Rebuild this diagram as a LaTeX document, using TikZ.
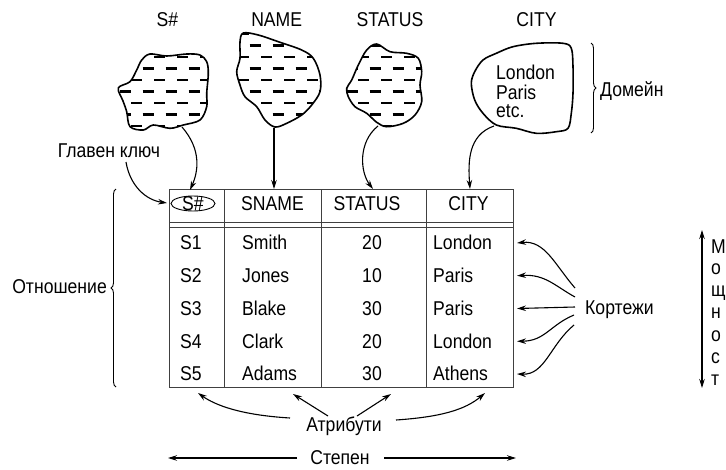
\documentclass[tikz,border=0pt]{standalone}
\usepackage{fontspec}
\setmainfont{Liberation Sans}[FakeStretch=0.88]
\usetikzlibrary{arrows.meta,decorations.pathreplacing}

\newcommand{\dblob}[2]{%
  \begin{scope}
    \clip plot[smooth cycle, tension=0.55] coordinates {#1};
    \foreach \yy in {34,57,...,140} \draw[dashrow] (100+#2,\yy) -- (600,\yy);
    \foreach \yy in {45.5,68.5,...,140} \draw[dashrow] (88.5+#2,\yy) -- (600,\yy);
  \end{scope}
  \draw[blobline] plot[smooth cycle, tension=0.55] coordinates {#1};}

\begin{document}
\begin{tikzpicture}[x=1pt,y=-1pt,
  font=\fontsize{20}{24}\selectfont,
  txt/.style={inner sep=0pt, text height=13.5pt, text depth=0pt},
  arr/.style={-{Stealth[length=9pt,width=5.5pt]}, line width=1.1pt},
  dblarr/.style={{Stealth[length=9pt,width=5.5pt]}-{Stealth[length=9pt,width=5.5pt]}, line width=1.1pt},
  blobline/.style={line width=1.6pt, line join=round},
  dashrow/.style={line width=2.9pt, dash pattern=on 11pt off 12pt},
  tline/.style={line width=0.9pt, black!75},
  brc/.style={decorate, decoration={brace, amplitude=5pt}, line width=0.9pt}]
\useasboundingbox (0,0) rectangle (726,469);

% ---- domain blobs ----
\dblob{(141.7,60) (150,54) (166.7,56) (186.7,54) (200,55) (206.7,61.7) (208.3,73.3) (206.7,93.3) (206.7,106.7) (200,120) (183.3,125) (170,128.3) (153.3,125) (143.3,130) (130,126.7) (126.7,111.7) (123,101) (118.3,88) (130,81.7) (136.7,70)}{8}
\dblob{(243.3,33) (258.3,35) (278.3,41.7) (301.7,50) (313.3,58.3) (320,75) (320,91.7) (311.7,105) (301.7,115) (286.7,123.3) (275,127) (265,120) (256.7,106.7) (245,96.7) (240,85) (236.7,71.7) (240,58.3) (240,41.7)}{0}
\dblob{(366.7,50) (376.7,44) (390,51.7) (406.7,53.3) (418.3,58.3) (421.7,71.7) (420,85) (421.7,101.7) (415,115) (403.3,123.3) (386.7,126.7) (376.7,122.3) (366.7,113.3) (355,106.7) (348.3,96.7) (346.7,88.3) (351.7,80) (358.3,65)}{5}
\draw[blobline] plot[smooth cycle, tension=0.55] coordinates {(474.7,71.7) (483,60) (496.3,53.3) (513,46.7) (536.3,43.3) (563,43.3) (571.3,48.3) (573,66.7) (573,93.3) (571.3,113.3) (568,128.3) (556.3,131.7) (536.3,133.3) (516.3,128.3) (496.3,125) (483,113.3) (474.7,100) (471.3,83.3)};
\node[txt, anchor=west] (cL) at (496,72.5) {London};
\node[txt, anchor=west] (cP) at (496,92.5) {Paris};
\node[txt, anchor=west] (cE) at (496,111) {etc.};

% ---- top labels ----
\node[txt] (lS) at (167.5,20) {S\#};
\node[txt] (lN) at (276.7,20) {NAME};
\node[txt] (lSt) at (390,20) {STATUS};
\node[txt] (lC) at (536.5,20) {CITY};

% Domain brace
\draw[brc] (591,43) -- (591,133);
\node[txt, anchor=west] (dom) at (600,90) {Домейн};

% ---- table ----
\draw[tline] (169,189) rectangle (513,387);
\draw[tline] (224,189) -- (224,387) (321,189) -- (321,387) (426,189) -- (426,387);
\draw[tline] (169,222) -- (513,222) (169,227) -- (513,227);

\node[txt] (hS) at (193,203.5) {S\#};
\draw[line width=0.9pt] (hS.center) ellipse [x radius=22, y radius=7.5];
\node[txt] (hN) at (272.5,203.5) {SNAME};
\node[txt] (hSt) at (367,203.5) {STATUS};
\node[txt] (hC) at (468.5,203.5) {CITY};

\foreach \id/\nm/\st/\ct [count=\i] in {S1/Smith/20/London, S2/Jones/10/Paris, S3/Blake/30/Paris, S4/Clark/20/London, S5/Adams/30/Athens}{
  \pgfmathsetmacro{\ry}{243+32.75*(\i-1)}
  \node[txt] (id\i) at (191,\ry) {\id};
  \node[txt, anchor=west] (nm\i) at (242,\ry) {\nm};
  \node[txt] (st\i) at (372,\ry) {\st};
  \node[txt, anchor=west] (ct\i) at (433,\ry) {\ct};
  \coordinate (r\i) at (517,\ry);
}

% ---- blob to header arrows ----
\coordinate (bS) at (182,127);
\coordinate (bN) at (274,128);
\coordinate (bSt) at (378,126);
\coordinate (bC) at (494,126);
\coordinate (tS) at (190,190);
\coordinate (tN) at (274,189);
\coordinate (tSt) at (373,189);
\coordinate (tC) at (470,189);
\draw[arr] (bS) .. controls (202,150) and (198,172) .. (tS);
\draw[arr] (bN) -- (tN);
\draw[arr] (bSt) .. controls (358,142) and (360,172) .. (tSt);
\draw[arr] (bC) .. controls (468,135) and (468,162) .. (tC);

% primary key
\node[txt] (pk) at (109,151) {Главен ключ};
\coordinate (pkS) at (126,162);
\coordinate (pkE) at (167,203);
\draw[arr] (pkS) .. controls (130,186) and (146,200) .. (pkE);

% relation brace
\draw[brc] (116,387) -- (116,189);
\node[txt, anchor=east] (rel) at (107,287) {Отношение};

% tuples
\node[txt, anchor=west] (tup) at (585,308) {Кортежи};
\coordinate (k1) at (575,288);
\coordinate (k2) at (575,297);
\coordinate (k3) at (575,307);
\coordinate (k4) at (574,315);
\coordinate (k5) at (574,325);
\draw[arr] (k1) .. controls (555,265) and (545,240) .. (r1);
\draw[arr] (k2) .. controls (555,286) and (545,274) .. (r2);
\draw[arr] (k3) -- (r3);
\draw[arr] (k4) .. controls (550,325) and (545,341) .. (r4);
\draw[arr] (k5) .. controls (550,345) and (545,375) .. (r5);

% cardinality
\coordinate (mT) at (702,230);
\coordinate (mB) at (702,388);
\draw[dblarr] (mT) -- (mB);
\foreach \ch/\yy [count=\j] in {М/253.5, о/274, щ/296, н/318, о/341, с/363, т/385}
  \node[inner sep=0pt, anchor=base west] (m\j) at (711,\yy) {\ch};

% attributes
\node[txt] (attr) at (344,425) {Атрибути};
\coordinate (a1) at (290,418);
\coordinate (a2) at (328,416);
\coordinate (a3) at (357,416);
\coordinate (a4) at (396,420);
\coordinate (e1) at (198,393);
\coordinate (e2) at (293,394);
\coordinate (e3) at (391,394);
\coordinate (e4) at (485,393);
\draw[arr] (a1) .. controls (240,415) and (215,405) .. (e1);
\draw[arr] (a2) -- (e2);
\draw[arr] (a3) -- (e3);
\draw[arr] (a4) .. controls (440,417) and (465,410) .. (e4);

% degree
\node[txt] (deg) at (340,457.5) {Степен};
\coordinate (dL) at (297,458);
\coordinate (dLe) at (168,458);
\coordinate (dR) at (384,458);
\coordinate (dRe) at (516,458);
\draw[arr] (dL) -- (dLe);
\draw[arr] (dR) -- (dRe);
\end{tikzpicture}
\end{document}
